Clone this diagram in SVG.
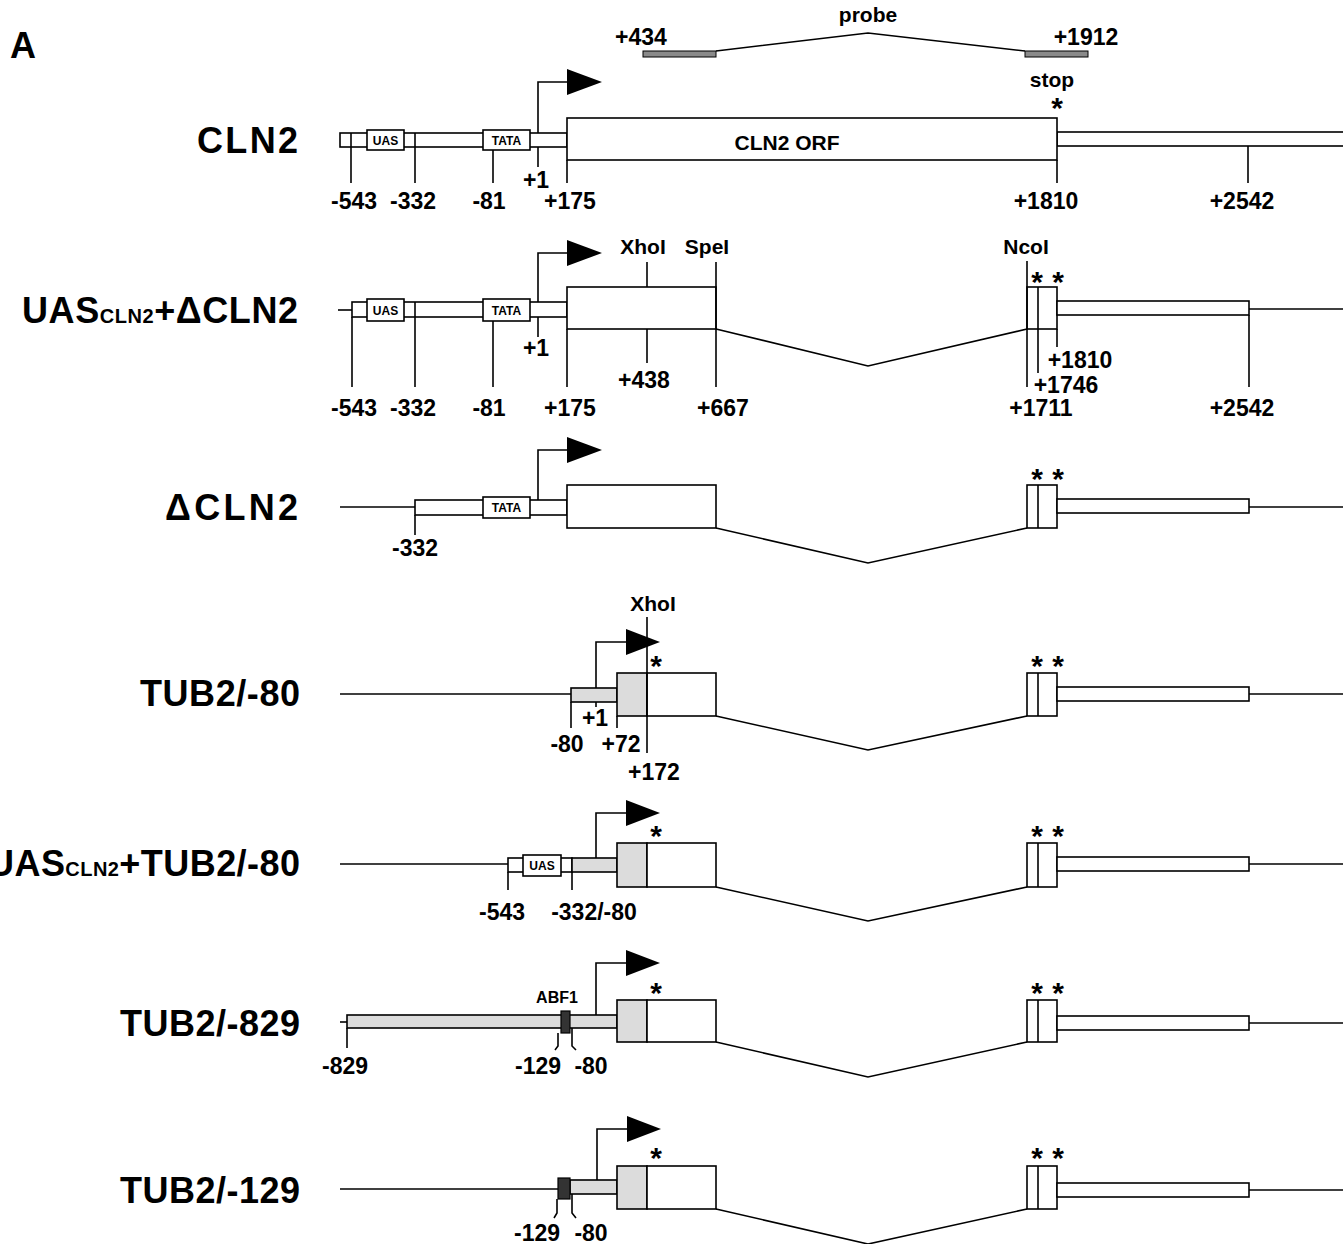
<svg xmlns="http://www.w3.org/2000/svg" width="1343" height="1244" viewBox="0 0 1343 1244">
<style>
  text { font-family: "Liberation Sans", Arial, sans-serif; font-weight: bold; fill: #000; }
  .lbl { font-size: 36px; text-anchor: end; }
  .sub { font-size: 20px; }
  .num { font-size: 23px; text-anchor: middle; }
  .sm { font-size: 12px; text-anchor: middle; }
  .mid { font-size: 21px; text-anchor: middle; }
  .star { font-size: 30px; text-anchor: middle; }
  .ln { stroke: #000; stroke-width: 1.6; fill: none; }
  .box { stroke: #000; stroke-width: 1.6; fill: #fff; }
  .gray { stroke: #000; stroke-width: 1.6; fill: #dcdcdc; }
  .abf { stroke: #000; stroke-width: 1.2; fill: #333; }
  .tri { fill: #000; stroke: none; }
  .probe { stroke: #000; stroke-width: 1; fill: #8a8a8a; }
</style>

<text x="10" y="58" style="font-size:36px">A</text>

<g id="probe">
  <rect class="probe" x="643" y="51" width="73" height="6"/>
  <rect class="probe" x="1025" y="51" width="63" height="6"/>
  <text class="mid" x="868" y="22">probe</text>
  <text class="num" x="641" y="45">+434</text>
  <text class="num" x="1086" y="45">+1912</text>
</g>

<g id="connectors">
  <polyline class="ln" points="716,51 868,33 1025,51"/>
  <polyline class="ln" points="716,329 868,366 1027,329"/>
  <polyline class="ln" points="716,528 868,563 1027,528"/>
  <polyline class="ln" points="716,716 868,750 1027,716"/>
  <polyline class="ln" points="716,887 868,921 1027,887"/>
  <polyline class="ln" points="716,1042 868,1077 1027,1042"/>
  <polyline class="ln" points="716,1209 868,1244 1027,1209"/>
</g>

<!-- Row 1: CLN2 -->
<g id="row-cln2">
  <text class="lbl" x="298" y="153" textLength="101" lengthAdjust="spacing">CLN2</text>
  <rect class="box" x="340" y="133" width="227" height="14"/>
  <rect class="box" x="1057" y="132" width="300" height="14"/>
  <line class="ln" x1="351" y1="133" x2="351" y2="183"/>
  <line class="ln" x1="415" y1="133" x2="415" y2="183"/>
  <rect class="box" x="367" y="130" width="37" height="20"/>
  <text class="sm" x="385.5" y="145">UAS</text>
  <rect class="box" x="483" y="130" width="47" height="20"/>
  <text class="sm" x="506.5" y="145">TATA</text>
  <line class="ln" x1="493" y1="150" x2="493" y2="183"/>
  <line class="ln" x1="538" y1="147" x2="538" y2="167"/>
  <rect class="box" x="567" y="118" width="490" height="42"/>
  <text class="mid" x="787" y="150">CLN2 ORF</text>
  <line class="ln" x1="567" y1="160" x2="567" y2="183"/>
  <line class="ln" x1="1057" y1="160" x2="1057" y2="183"/>
  <line class="ln" x1="1248" y1="146" x2="1248" y2="183"/>
  <polyline class="ln" points="538,133 538,82 570,82"/>
  <polygon class="tri" points="567,69 602,82 567,95"/>
  <text class="mid" x="1052" y="87">stop</text>
  <text class="star" x="1057" y="118">*</text>
  <text class="num" x="354" y="209">-543</text>
  <text class="num" x="413" y="209">-332</text>
  <text class="num" x="489" y="209">-81</text>
  <text class="num" x="536" y="188">+1</text>
  <text class="num" x="570" y="209">+175</text>
  <text class="num" x="1046" y="209">+1810</text>
  <text class="num" x="1242" y="209">+2542</text>
</g>

<!-- Row 2: UAS_CLN2 + dCLN2 -->
<g id="row-uas-dcln2">
  <text class="lbl" x="298" y="323" textLength="276" lengthAdjust="spacing">UAS<tspan class="sub">CLN2</tspan>+ΔCLN2</text>
  <line class="ln" x1="338" y1="310" x2="352" y2="310"/>
  <rect class="box" x="352" y="302" width="215" height="15"/>
  <line class="ln" x1="352" y1="317" x2="352" y2="387"/>
  <line class="ln" x1="415" y1="302" x2="415" y2="387"/>
  <rect class="box" x="367" y="299" width="37" height="22"/>
  <text class="sm" x="385.5" y="315">UAS</text>
  <rect class="box" x="483" y="299" width="47" height="22"/>
  <text class="sm" x="506.5" y="315">TATA</text>
  <line class="ln" x1="493" y1="321" x2="493" y2="387"/>
  <line class="ln" x1="538" y1="317" x2="538" y2="337"/>
  <rect class="box" x="567" y="287" width="149" height="42"/>
  <line class="ln" x1="567" y1="329" x2="567" y2="387"/>
  <line class="ln" x1="647" y1="262" x2="647" y2="287"/>
  <line class="ln" x1="647" y1="329" x2="647" y2="363"/>
  <line class="ln" x1="716" y1="262" x2="716" y2="387"/>
  <polyline class="ln" points="538,302 538,253 570,253"/>
  <polygon class="tri" points="567,240 602,253 567,266"/>
  <rect class="box" x="1027" y="287" width="30" height="42"/>
  <line class="ln" x1="1038" y1="287" x2="1038" y2="373"/>
  <line class="ln" x1="1027" y1="261" x2="1027" y2="387"/>
  <line class="ln" x1="1057" y1="329" x2="1057" y2="347"/>
  <rect class="box" x="1057" y="301" width="192" height="14"/>
  <line class="ln" x1="1249" y1="309" x2="1343" y2="309"/>
  <line class="ln" x1="1249" y1="315" x2="1249" y2="387"/>
  <text class="star" x="1037" y="292">*</text>
  <text class="star" x="1058" y="292">*</text>
  <text class="mid" x="643" y="254">XhoI</text>
  <text class="mid" x="707" y="254">SpeI</text>
  <text class="mid" x="1026" y="254">NcoI</text>
  <text class="num" x="354" y="416">-543</text>
  <text class="num" x="413" y="416">-332</text>
  <text class="num" x="489" y="416">-81</text>
  <text class="num" x="536" y="356">+1</text>
  <text class="num" x="570" y="416">+175</text>
  <text class="num" x="644" y="388">+438</text>
  <text class="num" x="723" y="416">+667</text>
  <text class="num" x="1080" y="368">+1810</text>
  <text class="num" x="1066" y="393">+1746</text>
  <text class="num" x="1041" y="416">+1711</text>
  <text class="num" x="1242" y="416">+2542</text>
</g>

<!-- Row 3: dCLN2 -->
<g id="row-dcln2">
  <text class="lbl" x="298" y="520" textLength="133" lengthAdjust="spacing">ΔCLN2</text>
  <line class="ln" x1="340" y1="507" x2="415" y2="507"/>
  <rect class="box" x="415" y="500" width="152" height="15"/>
  <line class="ln" x1="415" y1="515" x2="415" y2="535"/>
  <rect class="box" x="483" y="497" width="47" height="21"/>
  <text class="sm" x="506.5" y="512">TATA</text>
  <rect class="box" x="567" y="485" width="149" height="43"/>
  <polyline class="ln" points="538,500 538,450 570,450"/>
  <polygon class="tri" points="567,437 602,450 567,463"/>
  <rect class="box" x="1027" y="485" width="30" height="43"/>
  <line class="ln" x1="1038" y1="485" x2="1038" y2="528"/>
  <rect class="box" x="1057" y="499" width="192" height="14"/>
  <line class="ln" x1="1249" y1="507" x2="1343" y2="507"/>
  <text class="star" x="1037" y="489">*</text>
  <text class="star" x="1058" y="489">*</text>
  <text class="num" x="415" y="556">-332</text>
</g>

<!-- Row 4: TUB2/-80 -->
<g id="row-tub2-80">
  <text class="lbl" x="300" y="706" textLength="160" lengthAdjust="spacing">TUB2/-80</text>
  <line class="ln" x1="340" y1="694" x2="571" y2="694"/>
  <rect class="gray" x="571" y="688" width="46" height="14"/>
  <rect class="gray" x="617" y="673" width="30" height="43"/>
  <rect class="box" x="647" y="673" width="69" height="43"/>
  <line class="ln" x1="647" y1="617" x2="647" y2="753"/>
  <polyline class="ln" points="596,688 596,642 628,642"/>
  <polygon class="tri" points="626,629 660,642 626,655"/>
  <line class="ln" x1="571" y1="702" x2="571" y2="728"/>
  <line class="ln" x1="596" y1="702" x2="596" y2="707"/>
  <line class="ln" x1="617" y1="716" x2="617" y2="728"/>
  <rect class="box" x="1027" y="673" width="30" height="43"/>
  <line class="ln" x1="1038" y1="673" x2="1038" y2="716"/>
  <rect class="box" x="1057" y="687" width="192" height="14"/>
  <line class="ln" x1="1249" y1="694" x2="1343" y2="694"/>
  <text class="mid" x="653" y="611">XhoI</text>
  <text class="star" x="656" y="676">*</text>
  <text class="star" x="1037" y="676">*</text>
  <text class="star" x="1058" y="676">*</text>
  <text class="num" x="595" y="726">+1</text>
  <text class="num" x="567" y="752">-80</text>
  <text class="num" x="621" y="752">+72</text>
  <text class="num" x="654" y="780">+172</text>
</g>

<!-- Row 5: UAS_CLN2 + TUB2/-80 -->
<g id="row-uas-tub2-80">
  <text class="lbl" x="300" y="876" textLength="312" lengthAdjust="spacing">UAS<tspan class="sub">CLN2</tspan>+TUB2/-80</text>
  <line class="ln" x1="340" y1="864" x2="508" y2="864"/>
  <rect class="box" x="508" y="858" width="64" height="14"/>
  <rect class="gray" x="572" y="858" width="45" height="14"/>
  <rect class="box" x="523" y="855" width="38" height="21"/>
  <text class="sm" x="542" y="870">UAS</text>
  <rect class="gray" x="617" y="843" width="30" height="44"/>
  <rect class="box" x="647" y="843" width="69" height="44"/>
  <polyline class="ln" points="596,858 596,813 628,813"/>
  <polygon class="tri" points="626,800 660,813 626,826"/>
  <line class="ln" x1="508" y1="872" x2="508" y2="890"/>
  <line class="ln" x1="572" y1="872" x2="572" y2="890"/>
  <rect class="box" x="1027" y="843" width="30" height="44"/>
  <line class="ln" x1="1038" y1="843" x2="1038" y2="887"/>
  <rect class="box" x="1057" y="857" width="192" height="14"/>
  <line class="ln" x1="1249" y1="864" x2="1343" y2="864"/>
  <text class="star" x="656" y="846">*</text>
  <text class="star" x="1037" y="846">*</text>
  <text class="star" x="1058" y="846">*</text>
  <text class="num" x="502" y="920">-543</text>
  <text class="num" x="594" y="920">-332/-80</text>
</g>

<!-- Row 6: TUB2/-829 -->
<g id="row-tub2-829">
  <text class="lbl" x="300" y="1036" textLength="180" lengthAdjust="spacing">TUB2/-829</text>
  <line class="ln" x1="340" y1="1022" x2="347" y2="1022"/>
  <rect class="gray" x="347" y="1015" width="270" height="13"/>
  <rect class="abf" x="561" y="1011" width="9" height="22"/>
  <rect class="gray" x="617" y="1000" width="30" height="42"/>
  <rect class="box" x="647" y="1000" width="69" height="42"/>
  <polyline class="ln" points="596,1015 596,963 628,963"/>
  <polygon class="tri" points="626,950 660,963 626,976"/>
  <line class="ln" x1="347" y1="1028" x2="347" y2="1048"/>
  <polyline class="ln" points="558,1033 558,1046 555,1050"/>
  <polyline class="ln" points="572,1028 572,1046 576,1050"/>
  <rect class="box" x="1027" y="1000" width="30" height="42"/>
  <line class="ln" x1="1038" y1="1000" x2="1038" y2="1042"/>
  <rect class="box" x="1057" y="1016" width="192" height="14"/>
  <line class="ln" x1="1249" y1="1023" x2="1343" y2="1023"/>
  <text x="557" y="1003" style="font-size:16px;text-anchor:middle">ABF1</text>
  <text class="star" x="656" y="1003">*</text>
  <text class="star" x="1037" y="1003">*</text>
  <text class="star" x="1058" y="1003">*</text>
  <text class="num" x="345" y="1074">-829</text>
  <text class="num" x="538" y="1074">-129</text>
  <text class="num" x="591" y="1074">-80</text>
</g>

<!-- Row 7: TUB2/-129 -->
<g id="row-tub2-129">
  <text class="lbl" x="300" y="1203" textLength="180" lengthAdjust="spacing">TUB2/-129</text>
  <line class="ln" x1="340" y1="1189" x2="558" y2="1189"/>
  <rect class="gray" x="570" y="1180" width="47" height="14"/>
  <rect class="abf" x="558" y="1178" width="12" height="21"/>
  <rect class="gray" x="617" y="1166" width="30" height="43"/>
  <rect class="box" x="647" y="1166" width="69" height="43"/>
  <polyline class="ln" points="597,1180 597,1129 629,1129"/>
  <polygon class="tri" points="627,1116 661,1129 627,1142"/>
  <polyline class="ln" points="557,1199 557,1213 554,1218"/>
  <polyline class="ln" points="572,1194 572,1213 576,1218"/>
  <rect class="box" x="1027" y="1166" width="30" height="43"/>
  <line class="ln" x1="1038" y1="1166" x2="1038" y2="1209"/>
  <rect class="box" x="1057" y="1183" width="192" height="14"/>
  <line class="ln" x1="1249" y1="1190" x2="1343" y2="1190"/>
  <text class="star" x="656" y="1168">*</text>
  <text class="star" x="1037" y="1168">*</text>
  <text class="star" x="1058" y="1168">*</text>
  <text class="num" x="537" y="1241">-129</text>
  <text class="num" x="591" y="1241">-80</text>
</g>
</svg>
